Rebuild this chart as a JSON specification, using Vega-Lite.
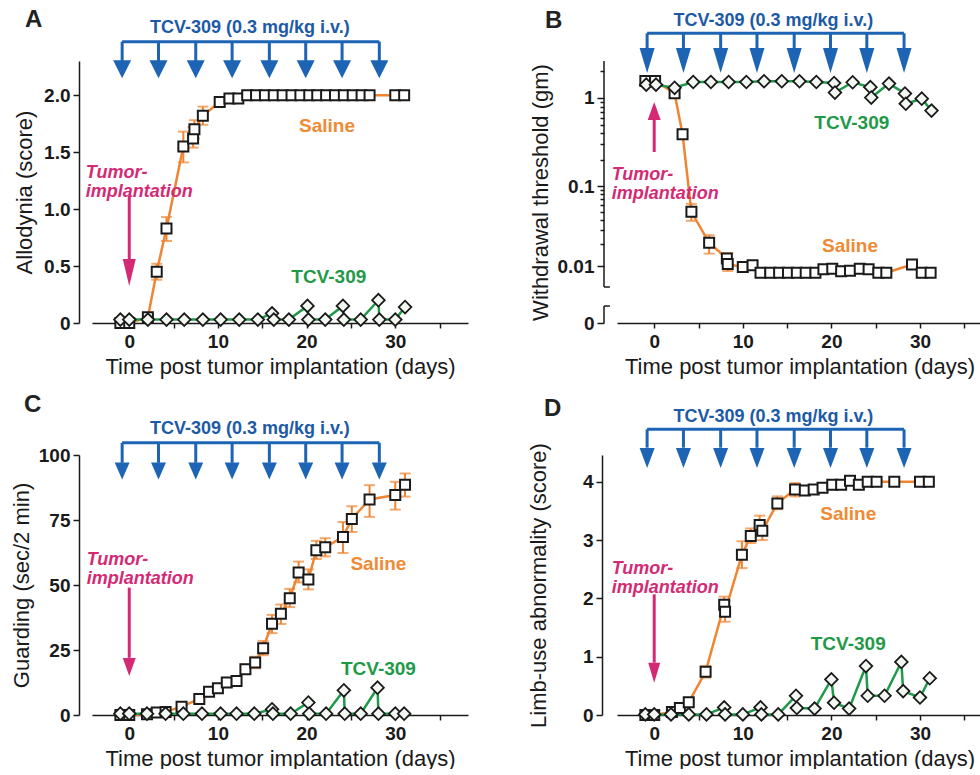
{
  "$schema": "https://vega.github.io/schema/vega-lite/v6.json",
  "padding": {"left": 10, "top": 7, "right": 0, "bottom": 0},
  "config": {
    "view": {"stroke": null},
    "font": "Liberation Sans",
    "axis": {"domainColor": "#1a1a1a", "tickColor": "#1a1a1a", "labelColor": "#1a1a1a", "titleColor": "#1a1a1a", "domainWidth": 1.5, "tickWidth": 1.5, "grid": false, "labelFontSize": 19, "labelFontWeight": "bold", "titleFontSize": 22, "titleFontWeight": "normal", "labelFont": "Liberation Sans", "titleFont": "Liberation Sans", "labelOverlap": false}
  },
  "datasets": {
    "doses": [{"day": -0.8}, {"day": 3.3}, {"day": 7.5}, {"day": 11.6}, {"day": 15.8}, {"day": 19.9}, {"day": 24.0}, {"day": 28.2}],
    "allodynia": [
      {"group": "Saline", "day": -1, "value": 0},
      {"group": "Saline", "day": 0, "value": 0},
      {"group": "Saline", "day": 2.1, "value": 0.05},
      {"group": "Saline", "day": 3.1, "value": 0.45, "lo": 0.38, "hi": 0.52},
      {"group": "Saline", "day": 4.2, "value": 0.83, "lo": 0.72, "hi": 0.93},
      {"group": "Saline", "day": 6.1, "value": 1.55, "lo": 1.41, "hi": 1.68},
      {"group": "Saline", "day": 7.2, "value": 1.62, "lo": 1.54, "hi": 1.72},
      {"group": "Saline", "day": 7.35, "value": 1.70, "lo": 1.62, "hi": 1.78},
      {"group": "Saline", "day": 8.3, "value": 1.82, "lo": 1.74, "hi": 1.90},
      {"group": "Saline", "day": 10.2, "value": 1.94, "lo": 1.90, "hi": 1.98},
      {"group": "Saline", "day": 11.3, "value": 1.97},
      {"group": "Saline", "day": 12.3, "value": 1.97},
      {"group": "Saline", "day": 13.3, "value": 2.0},
      {"group": "Saline", "day": 14.3, "value": 2.0},
      {"group": "Saline", "day": 15.3, "value": 2.0},
      {"group": "Saline", "day": 16.3, "value": 2.0},
      {"group": "Saline", "day": 17.3, "value": 2.0},
      {"group": "Saline", "day": 18.3, "value": 2.0},
      {"group": "Saline", "day": 19.3, "value": 2.0},
      {"group": "Saline", "day": 20.3, "value": 2.0},
      {"group": "Saline", "day": 21.2, "value": 2.0},
      {"group": "Saline", "day": 22.2, "value": 2.0},
      {"group": "Saline", "day": 23.2, "value": 2.0},
      {"group": "Saline", "day": 24.2, "value": 2.0},
      {"group": "Saline", "day": 25.2, "value": 2.0},
      {"group": "Saline", "day": 26.2, "value": 2.0},
      {"group": "Saline", "day": 27.1, "value": 2.0},
      {"group": "Saline", "day": 30.0, "value": 2.0},
      {"group": "Saline", "day": 31.0, "value": 2.0},
      {"group": "TCV-309", "day": -1, "value": 0.03},
      {"group": "TCV-309", "day": 0, "value": 0.03},
      {"group": "TCV-309", "day": 2.1, "value": 0.03},
      {"group": "TCV-309", "day": 4.2, "value": 0.03},
      {"group": "TCV-309", "day": 6.2, "value": 0.03},
      {"group": "TCV-309", "day": 8.3, "value": 0.03},
      {"group": "TCV-309", "day": 10.3, "value": 0.03},
      {"group": "TCV-309", "day": 12.4, "value": 0.03},
      {"group": "TCV-309", "day": 14.5, "value": 0.03},
      {"group": "TCV-309", "day": 16.1, "value": 0.085},
      {"group": "TCV-309", "day": 16.3, "value": 0.03},
      {"group": "TCV-309", "day": 18.0, "value": 0.03},
      {"group": "TCV-309", "day": 20.1, "value": 0.15},
      {"group": "TCV-309", "day": 20.2, "value": 0.03},
      {"group": "TCV-309", "day": 22.1, "value": 0.03},
      {"group": "TCV-309", "day": 24.1, "value": 0.15},
      {"group": "TCV-309", "day": 24.2, "value": 0.03},
      {"group": "TCV-309", "day": 26.1, "value": 0.03},
      {"group": "TCV-309", "day": 28.1, "value": 0.20},
      {"group": "TCV-309", "day": 28.2, "value": 0.03},
      {"group": "TCV-309", "day": 30.0, "value": 0.03},
      {"group": "TCV-309", "day": 31.1, "value": 0.14}
    ],
    "withdrawal": [
      {"group": "Saline", "day": -1, "value": 1.55},
      {"group": "Saline", "day": 0.1, "value": 1.55},
      {"group": "Saline", "day": 2.3, "value": 1.13},
      {"group": "Saline", "day": 3.2, "value": 0.39},
      {"group": "Saline", "day": 4.2, "value": 0.05, "lo": 0.039, "hi": 0.062},
      {"group": "Saline", "day": 6.2, "value": 0.0208, "lo": 0.015, "hi": 0.026},
      {"group": "Saline", "day": 8.2, "value": 0.0129},
      {"group": "Saline", "day": 8.3, "value": 0.0108, "lo": 0.0085, "hi": 0.0152},
      {"group": "Saline", "day": 10.0, "value": 0.0097},
      {"group": "Saline", "day": 11.1, "value": 0.0103},
      {"group": "Saline", "day": 12.0, "value": 0.008},
      {"group": "Saline", "day": 13.1, "value": 0.008},
      {"group": "Saline", "day": 14.1, "value": 0.008},
      {"group": "Saline", "day": 15.1, "value": 0.008},
      {"group": "Saline", "day": 16.1, "value": 0.008},
      {"group": "Saline", "day": 17.1, "value": 0.008},
      {"group": "Saline", "day": 18.2, "value": 0.008},
      {"group": "Saline", "day": 19.1, "value": 0.009},
      {"group": "Saline", "day": 20.1, "value": 0.0092},
      {"group": "Saline", "day": 21.1, "value": 0.0084},
      {"group": "Saline", "day": 22.1, "value": 0.0086},
      {"group": "Saline", "day": 23.2, "value": 0.0092},
      {"group": "Saline", "day": 24.2, "value": 0.009},
      {"group": "Saline", "day": 25.3, "value": 0.008},
      {"group": "Saline", "day": 26.2, "value": 0.008},
      {"group": "Saline", "day": 29.1, "value": 0.0106},
      {"group": "Saline", "day": 30.2, "value": 0.008},
      {"group": "Saline", "day": 31.2, "value": 0.008},
      {"group": "TCV-309", "day": -0.9, "value": 1.41},
      {"group": "TCV-309", "day": 0.2, "value": 1.41},
      {"group": "TCV-309", "day": 2.3, "value": 1.30},
      {"group": "TCV-309", "day": 4.4, "value": 1.51},
      {"group": "TCV-309", "day": 6.4, "value": 1.51},
      {"group": "TCV-309", "day": 8.4, "value": 1.51},
      {"group": "TCV-309", "day": 10.4, "value": 1.51},
      {"group": "TCV-309", "day": 12.4, "value": 1.54},
      {"group": "TCV-309", "day": 14.4, "value": 1.54},
      {"group": "TCV-309", "day": 16.4, "value": 1.54},
      {"group": "TCV-309", "day": 18.3, "value": 1.51},
      {"group": "TCV-309", "day": 20.3, "value": 1.47},
      {"group": "TCV-309", "day": 20.4, "value": 1.15},
      {"group": "TCV-309", "day": 22.4, "value": 1.50},
      {"group": "TCV-309", "day": 24.4, "value": 1.32},
      {"group": "TCV-309", "day": 24.5, "value": 1.01},
      {"group": "TCV-309", "day": 26.5, "value": 1.45},
      {"group": "TCV-309", "day": 28.3, "value": 1.12},
      {"group": "TCV-309", "day": 28.4, "value": 0.86},
      {"group": "TCV-309", "day": 30.2, "value": 0.98},
      {"group": "TCV-309", "day": 31.3, "value": 0.72}
    ],
    "guarding": [
      {"group": "Saline", "day": -1, "value": 0},
      {"group": "Saline", "day": 0, "value": 0},
      {"group": "Saline", "day": 2.0, "value": 0.3},
      {"group": "Saline", "day": 3.1, "value": 1.0},
      {"group": "Saline", "day": 4.1, "value": 1.2},
      {"group": "Saline", "day": 5.9, "value": 3.2},
      {"group": "Saline", "day": 7.9, "value": 6.2},
      {"group": "Saline", "day": 9.0, "value": 8.9},
      {"group": "Saline", "day": 10.0, "value": 10.3},
      {"group": "Saline", "day": 11.0, "value": 12.5, "lo": 11, "hi": 14},
      {"group": "Saline", "day": 12.1, "value": 13.1, "lo": 11.5, "hi": 14.7},
      {"group": "Saline", "day": 13.1, "value": 17.6, "lo": 15.8, "hi": 19.4},
      {"group": "Saline", "day": 14.2, "value": 20.2, "lo": 18, "hi": 22.4},
      {"group": "Saline", "day": 15.1, "value": 25.7, "lo": 23, "hi": 28.5},
      {"group": "Saline", "day": 16.1, "value": 35.1, "lo": 31.5, "hi": 38.5},
      {"group": "Saline", "day": 17.1, "value": 38.9, "lo": 35, "hi": 42.5},
      {"group": "Saline", "day": 18.1, "value": 44.9, "lo": 41.5, "hi": 48.5},
      {"group": "Saline", "day": 19.1, "value": 54.8, "lo": 51, "hi": 59},
      {"group": "Saline", "day": 20.2, "value": 52.1, "lo": 48.3, "hi": 56},
      {"group": "Saline", "day": 21.1, "value": 63.4, "lo": 60, "hi": 67},
      {"group": "Saline", "day": 22.1, "value": 64.5, "lo": 61, "hi": 68},
      {"group": "Saline", "day": 24.1, "value": 68.5, "lo": 62.3, "hi": 74.2},
      {"group": "Saline", "day": 25.1, "value": 75.4, "lo": 70.4, "hi": 80.3},
      {"group": "Saline", "day": 27.1, "value": 82.9, "lo": 76.2, "hi": 88.4},
      {"group": "Saline", "day": 30.0, "value": 84.6, "lo": 79, "hi": 89.7},
      {"group": "Saline", "day": 31.1, "value": 88.6, "lo": 84, "hi": 92.9},
      {"group": "TCV-309", "day": -1, "value": 0.5},
      {"group": "TCV-309", "day": 0, "value": 0.5},
      {"group": "TCV-309", "day": 2.0, "value": 0.5},
      {"group": "TCV-309", "day": 4.1, "value": 0.5},
      {"group": "TCV-309", "day": 6.1, "value": 0.5},
      {"group": "TCV-309", "day": 8.2, "value": 0.5},
      {"group": "TCV-309", "day": 10.3, "value": 0.5},
      {"group": "TCV-309", "day": 12.1, "value": 0.5},
      {"group": "TCV-309", "day": 14.1, "value": 0.5},
      {"group": "TCV-309", "day": 16.1, "value": 2.2},
      {"group": "TCV-309", "day": 16.2, "value": 0.5},
      {"group": "TCV-309", "day": 18.2, "value": 0.5},
      {"group": "TCV-309", "day": 20.2, "value": 4.8},
      {"group": "TCV-309", "day": 20.3, "value": 0.5},
      {"group": "TCV-309", "day": 22.2, "value": 0.5},
      {"group": "TCV-309", "day": 24.2, "value": 9.5},
      {"group": "TCV-309", "day": 24.3, "value": 0.5},
      {"group": "TCV-309", "day": 26.1, "value": 0.5},
      {"group": "TCV-309", "day": 28.0, "value": 10.5},
      {"group": "TCV-309", "day": 28.1, "value": 0.5},
      {"group": "TCV-309", "day": 30.0, "value": 0.5},
      {"group": "TCV-309", "day": 31.0, "value": 0.5}
    ],
    "limb": [
      {"group": "Saline", "day": -1, "value": 0},
      {"group": "Saline", "day": 0, "value": 0},
      {"group": "Saline", "day": 2.0, "value": 0.05},
      {"group": "Saline", "day": 2.9, "value": 0.12},
      {"group": "Saline", "day": 3.9, "value": 0.22},
      {"group": "Saline", "day": 5.8, "value": 0.74, "lo": 0.64, "hi": 0.84},
      {"group": "Saline", "day": 7.9, "value": 1.89, "lo": 1.7, "hi": 2.03},
      {"group": "Saline", "day": 8.0, "value": 1.77, "lo": 1.6, "hi": 1.95},
      {"group": "Saline", "day": 9.9, "value": 2.75, "lo": 2.52, "hi": 2.98},
      {"group": "Saline", "day": 10.9, "value": 3.07, "lo": 2.95, "hi": 3.2},
      {"group": "Saline", "day": 11.9, "value": 3.26, "lo": 3.1, "hi": 3.42},
      {"group": "Saline", "day": 12.2, "value": 3.16, "lo": 3.0, "hi": 3.3},
      {"group": "Saline", "day": 13.9, "value": 3.63, "lo": 3.53, "hi": 3.75},
      {"group": "Saline", "day": 15.9, "value": 3.87, "lo": 3.75, "hi": 3.98},
      {"group": "Saline", "day": 17.0, "value": 3.85},
      {"group": "Saline", "day": 18.0, "value": 3.87},
      {"group": "Saline", "day": 19.0, "value": 3.9},
      {"group": "Saline", "day": 20.1, "value": 3.95},
      {"group": "Saline", "day": 21.1, "value": 3.95},
      {"group": "Saline", "day": 22.1, "value": 4.02},
      {"group": "Saline", "day": 23.1, "value": 3.95},
      {"group": "Saline", "day": 24.1, "value": 4.0},
      {"group": "Saline", "day": 25.1, "value": 4.0},
      {"group": "Saline", "day": 27.1, "value": 4.0},
      {"group": "Saline", "day": 30.0, "value": 4.0},
      {"group": "Saline", "day": 31.0, "value": 4.0},
      {"group": "TCV-309", "day": -1, "value": 0.01},
      {"group": "TCV-309", "day": 0, "value": 0.01},
      {"group": "TCV-309", "day": 1.9, "value": 0.01},
      {"group": "TCV-309", "day": 3.9, "value": 0.01},
      {"group": "TCV-309", "day": 5.9, "value": 0.01},
      {"group": "TCV-309", "day": 7.9, "value": 0.13},
      {"group": "TCV-309", "day": 8.0, "value": 0.01},
      {"group": "TCV-309", "day": 10.0, "value": 0.01},
      {"group": "TCV-309", "day": 12.0, "value": 0.13},
      {"group": "TCV-309", "day": 12.1, "value": 0.01},
      {"group": "TCV-309", "day": 14.0, "value": 0.01},
      {"group": "TCV-309", "day": 16.0, "value": 0.33},
      {"group": "TCV-309", "day": 16.1, "value": 0.12},
      {"group": "TCV-309", "day": 18.1, "value": 0.11},
      {"group": "TCV-309", "day": 20.0, "value": 0.61},
      {"group": "TCV-309", "day": 20.3, "value": 0.21},
      {"group": "TCV-309", "day": 22.0, "value": 0.11},
      {"group": "TCV-309", "day": 23.9, "value": 0.84},
      {"group": "TCV-309", "day": 24.1, "value": 0.33},
      {"group": "TCV-309", "day": 26.0, "value": 0.33},
      {"group": "TCV-309", "day": 27.9, "value": 0.91},
      {"group": "TCV-309", "day": 28.1, "value": 0.41},
      {"group": "TCV-309", "day": 30.0, "value": 0.30},
      {"group": "TCV-309", "day": 31.1, "value": 0.63}
    ]
  },
  "columns": 2,
  "spacing": {"row": 132, "column": 149},
  "bounds": "flush",
  "concat": [
    {
      "width": 376, "height": 262,
      "title": {"text": "A", "anchor": "start", "frame": "group", "dx": -67, "dy": 13, "offset": 0, "fontSize": 24, "fontWeight": "bold", "color": "#222222"},
      "layer": [
        {"data": {"name": "allodynia"}, "transform": [{"filter": "datum.group === 'Saline'"}],
         "mark": {"type": "line", "color": "#ef8533", "strokeWidth": 2.5},
         "encoding": {
           "x": {"field": "day", "type": "quantitative", "title": "Time post tumor implantation (days)", "scale": {"domain": [-4.2, 38.2], "nice": false, "zero": false},
                 "axis": {"values": [0, 5, 10, 15, 20, 25, 30, 35], "tickCount": 40, "labelExpr": "datum.value % 10 === 0 ? datum.label : ''", "tickSize": 5, "labelPadding": 4, "titlePadding": 5}},
           "y": {"field": "value", "type": "quantitative", "title": "Allodynia (score)", "scale": {"domain": [0, 2.3], "nice": false, "zero": true},
                 "axis": {"values": [0, 0.5, 1, 1.5, 2], "tickCount": 40, "labelExpr": "datum.value === 0 ? '0' : format(datum.value, '.1f')", "offset": 13, "tickSize": 6, "labelPadding": 3, "titlePadding": 7}}
         }},
        {"data": {"name": "allodynia"}, "transform": [{"filter": "datum.group === 'Saline' && isValid(datum.lo)"}],
         "mark": {"type": "errorbar", "ticks": true, "color": "#ef8533", "size": 11, "thickness": 2},
         "encoding": {"x": {"field": "day", "type": "quantitative", "title": "Time post tumor implantation (days)"}, "y": {"field": "lo", "type": "quantitative", "title": "Allodynia (score)"}, "y2": {"field": "hi"}}},
        {"data": {"name": "allodynia"}, "transform": [{"filter": "datum.group === 'TCV-309'"}],
         "mark": {"type": "line", "color": "#1f9a48", "strokeWidth": 2.5},
         "encoding": {"x": {"field": "day", "type": "quantitative"}, "y": {"field": "value", "type": "quantitative"}}},
        {"data": {"name": "allodynia"}, "transform": [{"filter": "datum.group === 'Saline'"}],
         "mark": {"type": "point", "shape": "square", "size": 100, "filled": true, "fill": "#ffffff", "stroke": "#1a1a1a", "strokeWidth": 2, "opacity": 1},
         "encoding": {"x": {"field": "day", "type": "quantitative"}, "y": {"field": "value", "type": "quantitative"}}},
        {"data": {"name": "allodynia"}, "transform": [{"filter": "datum.group === 'TCV-309'"}],
         "mark": {"type": "point", "shape": "diamond", "size": 160, "filled": true, "fill": "#f3f7f1", "stroke": "#1a1a1a", "strokeWidth": 1.8, "opacity": 1},
         "encoding": {"x": {"field": "day", "type": "quantitative"}, "y": {"field": "value", "type": "quantitative"}}},
        {"data": {"name": "doses"}, "mark": {"type": "rule", "color": "#1d64b5", "strokeWidth": 3},
         "encoding": {"x": {"aggregate": "min", "field": "day", "type": "quantitative"}, "x2": {"aggregate": "max", "field": "day"}, "y": {"datum": 2.47, "type": "quantitative"}}},
        {"data": {"name": "doses"}, "mark": {"type": "rule", "color": "#1d64b5", "strokeWidth": 3},
         "encoding": {"x": {"field": "day", "type": "quantitative"}, "y": {"datum": 2.47, "type": "quantitative"}, "y2": {"datum": 2.30}}},
        {"data": {"name": "doses"}, "mark": {"type": "point", "shape": "M-1,-1L1,-1L0,1Z", "size": 324, "filled": true, "color": "#1d64b5", "opacity": 1, "strokeWidth": 0},
         "encoding": {"x": {"field": "day", "type": "quantitative"}, "y": {"datum": 2.227, "type": "quantitative"}}},
        {"data": {"values": [{}]}, "mark": {"type": "text", "text": "TCV-309 (0.3 mg/kg i.v.)", "color": "#1d5aa6", "fontSize": 18, "fontWeight": "bold", "align": "center", "baseline": "middle"},
         "encoding": {"x": {"datum": 13.6, "type": "quantitative"}, "y": {"datum": 2.593, "type": "quantitative"}}},
        {"data": {"values": [{}]}, "mark": {"type": "rule", "color": "#d42a74", "strokeWidth": 3},
         "encoding": {"x": {"datum": 0, "type": "quantitative"}, "y": {"datum": 1.115, "type": "quantitative"}, "y2": {"datum": 0.562}}},
        {"data": {"values": [{}]}, "mark": {"type": "point", "shape": "M-0.48,-1L0.48,-1L0,1Z", "size": 729, "filled": true, "color": "#d42a74", "opacity": 1, "strokeWidth": 0},
         "encoding": {"x": {"datum": 0, "type": "quantitative"}, "y": {"datum": 0.443, "type": "quantitative"}}},
        {"data": {"values": [{}]}, "mark": {"type": "text", "text": ["Tumor-", "implantation"], "lineHeight": 19, "align": "left", "baseline": "middle", "fontSize": 18, "fontStyle": "italic", "fontWeight": "bold", "color": "#d42a74"},
         "encoding": {"x": {"datum": -4.9, "type": "quantitative"}, "y": {"datum": 1.313, "type": "quantitative"}}},
        {"data": {"values": [{}]}, "mark": {"type": "text", "text": "Saline", "fontSize": 19, "fontWeight": "bold", "color": "#ef8a35", "align": "center", "baseline": "middle"},
         "encoding": {"x": {"datum": 22.3, "type": "quantitative"}, "y": {"datum": 1.73, "type": "quantitative"}}},
        {"data": {"values": [{}]}, "mark": {"type": "text", "text": "TCV-309", "fontSize": 19, "fontWeight": "bold", "color": "#1f9a48", "align": "center", "baseline": "middle"},
         "encoding": {"x": {"datum": 22.5, "type": "quantitative"}, "y": {"datum": 0.40, "type": "quantitative"}}}
      ]
    },
    {
      "width": 365, "height": 262,
      "title": {"text": "B", "anchor": "start", "frame": "group", "dx": -72, "dy": 21, "offset": 0, "fontSize": 24, "fontWeight": "bold", "color": "#222222"},
      "layer": [
        {"data": {"name": "withdrawal"}, "transform": [{"filter": "datum.group === 'Saline'"}],
         "mark": {"type": "line", "color": "#ef8533", "strokeWidth": 2.5},
         "encoding": {
           "x": {"field": "day", "type": "quantitative", "title": "Time post tumor implantation (days)", "scale": {"domain": [-4.2, 37], "nice": false, "zero": false},
                 "axis": {"values": [0, 5, 10, 15, 20, 25, 30, 35], "tickCount": 40, "labelExpr": "datum.value % 10 === 0 ? datum.label : ''", "tickSize": 5, "labelPadding": 4, "titlePadding": 5}},
           "y": {"field": "value", "type": "quantitative", "title": "Withdrawal threshold (gm)", "scale": {"type": "symlog", "constant": 0.003, "domain": [0, 2.6], "nice": false, "zero": true},
                 "axis": {"values": [0, 0.01, 0.02, 0.03, 0.04, 0.05, 0.06, 0.07, 0.08, 0.09, 0.1, 0.2, 0.3, 0.4, 0.5, 0.6, 0.7, 0.8, 0.9, 1, 2],
                          "tickCount": 60,
                          "labelExpr": "datum.value === 0 ? '0' : abs(datum.value - 0.01) < 1e-9 ? '0.01' : abs(datum.value - 0.1) < 1e-9 ? '0.1' : abs(datum.value - 1) < 1e-9 ? '1' : ''",
                          "tickSize": {"condition": {"test": "datum.value === 0 || abs(datum.value - 0.01) < 1e-9 || abs(datum.value - 0.1) < 1e-9 || abs(datum.value - 1) < 1e-9", "value": 7}, "value": 4},
                          "labelOverlap": false, "domain": false, "offset": 13, "labelPadding": 3, "titlePadding": 5}}
         }},
        {"data": {"name": "withdrawal"}, "transform": [{"filter": "datum.group === 'Saline' && isValid(datum.lo)"}],
         "mark": {"type": "errorbar", "ticks": true, "color": "#ef8533", "size": 11, "thickness": 2},
         "encoding": {"x": {"field": "day", "type": "quantitative", "title": "Time post tumor implantation (days)"}, "y": {"field": "lo", "type": "quantitative", "title": "Withdrawal threshold (gm)"}, "y2": {"field": "hi"}}},
        {"data": {"name": "withdrawal"}, "transform": [{"filter": "datum.group === 'TCV-309'"}],
         "mark": {"type": "line", "color": "#1f9a48", "strokeWidth": 2.5},
         "encoding": {"x": {"field": "day", "type": "quantitative"}, "y": {"field": "value", "type": "quantitative"}}},
        {"data": {"name": "withdrawal"}, "transform": [{"filter": "datum.group === 'Saline'"}],
         "mark": {"type": "point", "shape": "square", "size": 100, "filled": true, "fill": "#ffffff", "stroke": "#1a1a1a", "strokeWidth": 2, "opacity": 1},
         "encoding": {"x": {"field": "day", "type": "quantitative"}, "y": {"field": "value", "type": "quantitative"}}},
        {"data": {"name": "withdrawal"}, "transform": [{"filter": "datum.group === 'TCV-309'"}],
         "mark": {"type": "point", "shape": "diamond", "size": 160, "filled": true, "fill": "#f3f7f1", "stroke": "#1a1a1a", "strokeWidth": 1.8, "opacity": 1},
         "encoding": {"x": {"field": "day", "type": "quantitative"}, "y": {"field": "value", "type": "quantitative"}}},
        {"data": {"values": [{}]}, "mark": {"type": "rule", "color": "#1a1a1a", "strokeWidth": 1.5},
         "encoding": {"x": {"datum": -5.667, "type": "quantitative"}, "y": {"datum": 0.0046, "type": "quantitative"}, "y2": {"datum": 2.6}}},
        {"data": {"values": [{}]}, "mark": {"type": "rule", "color": "#1a1a1a", "strokeWidth": 1.5},
         "encoding": {"x": {"datum": -5.667, "type": "quantitative"}, "y": {"datum": 0, "type": "quantitative"}, "y2": {"datum": 0.00165}}},
        {"data": {"values": [{}]}, "mark": {"type": "rule", "color": "#1a1a1a", "strokeWidth": 1.5},
         "encoding": {"x": {"datum": -5.667, "type": "quantitative"}, "x2": {"datum": -5.0}, "y": {"datum": 0.0046, "type": "quantitative"}}},
        {"data": {"values": [{}]}, "mark": {"type": "rule", "color": "#1a1a1a", "strokeWidth": 1.5},
         "encoding": {"x": {"datum": -5.667, "type": "quantitative"}, "x2": {"datum": -5.0}, "y": {"datum": 0.00165, "type": "quantitative"}}},
        {"data": {"name": "doses"}, "mark": {"type": "rule", "color": "#1d64b5", "strokeWidth": 3},
         "encoding": {"x": {"aggregate": "min", "field": "day", "type": "quantitative"}, "x2": {"aggregate": "max", "field": "day"}, "y": {"datum": 5.32, "type": "quantitative"}}},
        {"data": {"name": "doses"}, "mark": {"type": "rule", "color": "#1d64b5", "strokeWidth": 3},
         "encoding": {"x": {"field": "day", "type": "quantitative"}, "y": {"datum": 5.32, "type": "quantitative"}, "y2": {"datum": 3.64}}},
        {"data": {"name": "doses"}, "mark": {"type": "point", "shape": "M-0.6,-1L0.6,-1L0,1Z", "size": 625, "filled": true, "color": "#1d64b5", "opacity": 1, "strokeWidth": 0},
         "encoding": {"x": {"field": "day", "type": "quantitative"}, "y": {"datum": 2.64, "type": "quantitative"}}},
        {"data": {"values": [{}]}, "mark": {"type": "text", "text": "TCV-309 (0.3 mg/kg i.v.)", "color": "#1d5aa6", "fontSize": 18, "fontWeight": "bold", "align": "center", "baseline": "middle"},
         "encoding": {"x": {"datum": 13.45, "type": "quantitative"}, "y": {"datum": 7.32, "type": "quantitative"}}},
        {"data": {"values": [{}]}, "mark": {"type": "rule", "color": "#d42a74", "strokeWidth": 3},
         "encoding": {"x": {"datum": 0, "type": "quantitative"}, "y": {"datum": 0.245, "type": "quantitative"}, "y2": {"datum": 0.58}}},
        {"data": {"values": [{}]}, "mark": {"type": "point", "shape": "M-0.72,1L0.72,1L0,-1Z", "size": 324, "filled": true, "color": "#d42a74", "opacity": 1, "strokeWidth": 0},
         "encoding": {"x": {"datum": 0, "type": "quantitative"}, "y": {"datum": 0.713, "type": "quantitative"}}},
        {"data": {"values": [{}]}, "mark": {"type": "text", "text": ["Tumor-", "implantation"], "lineHeight": 19, "align": "left", "baseline": "middle", "fontSize": 18, "fontStyle": "italic", "fontWeight": "bold", "color": "#d42a74"},
         "encoding": {"x": {"datum": -4.8, "type": "quantitative"}, "y": {"datum": 0.134, "type": "quantitative"}}},
        {"data": {"values": [{}]}, "mark": {"type": "text", "text": "Saline", "fontSize": 19, "fontWeight": "bold", "color": "#ef8a35", "align": "center", "baseline": "middle"},
         "encoding": {"x": {"datum": 22.1, "type": "quantitative"}, "y": {"datum": 0.0189, "type": "quantitative"}}},
        {"data": {"values": [{}]}, "mark": {"type": "text", "text": "TCV-309", "fontSize": 19, "fontWeight": "bold", "color": "#1f9a48", "align": "center", "baseline": "middle"},
         "encoding": {"x": {"datum": 22.3, "type": "quantitative"}, "y": {"datum": 0.526, "type": "quantitative"}}}
      ]
    },
    {
      "width": 376, "height": 260,
      "title": {"text": "C", "anchor": "start", "frame": "group", "dx": -68, "dy": -3, "offset": 0, "fontSize": 24, "fontWeight": "bold", "color": "#222222"},
      "layer": [
        {"data": {"name": "guarding"}, "transform": [{"filter": "datum.group === 'Saline'"}],
         "mark": {"type": "line", "color": "#ef8533", "strokeWidth": 2.5},
         "encoding": {
           "x": {"field": "day", "type": "quantitative", "title": "Time post tumor implantation (days)", "scale": {"domain": [-4.2, 38.2], "nice": false, "zero": false},
                 "axis": {"values": [0, 5, 10, 15, 20, 25, 30, 35], "tickCount": 40, "labelExpr": "datum.value % 10 === 0 ? datum.label : ''", "tickSize": 5, "labelPadding": 4, "titlePadding": 5}},
           "y": {"field": "value", "type": "quantitative", "title": "Guarding (sec/2 min)", "scale": {"domain": [0, 100], "nice": false, "zero": true},
                 "axis": {"values": [0, 25, 50, 75, 100], "tickCount": 40, "format": "d", "offset": 13, "tickSize": 6, "labelPadding": 3, "titlePadding": 5}}
         }},
        {"data": {"name": "guarding"}, "transform": [{"filter": "datum.group === 'Saline' && isValid(datum.lo)"}],
         "mark": {"type": "errorbar", "ticks": true, "color": "#ef8533", "size": 11, "thickness": 2},
         "encoding": {"x": {"field": "day", "type": "quantitative", "title": "Time post tumor implantation (days)"}, "y": {"field": "lo", "type": "quantitative", "title": "Guarding (sec/2 min)"}, "y2": {"field": "hi"}}},
        {"data": {"name": "guarding"}, "transform": [{"filter": "datum.group === 'TCV-309'"}],
         "mark": {"type": "line", "color": "#1f9a48", "strokeWidth": 2.5},
         "encoding": {"x": {"field": "day", "type": "quantitative"}, "y": {"field": "value", "type": "quantitative"}}},
        {"data": {"name": "guarding"}, "transform": [{"filter": "datum.group === 'Saline'"}],
         "mark": {"type": "point", "shape": "square", "size": 100, "filled": true, "fill": "#ffffff", "stroke": "#1a1a1a", "strokeWidth": 2, "opacity": 1},
         "encoding": {"x": {"field": "day", "type": "quantitative"}, "y": {"field": "value", "type": "quantitative"}}},
        {"data": {"name": "guarding"}, "transform": [{"filter": "datum.group === 'TCV-309'"}],
         "mark": {"type": "point", "shape": "diamond", "size": 160, "filled": true, "fill": "#f3f7f1", "stroke": "#1a1a1a", "strokeWidth": 1.8, "opacity": 1},
         "encoding": {"x": {"field": "day", "type": "quantitative"}, "y": {"field": "value", "type": "quantitative"}}},
        {"data": {"name": "doses"}, "mark": {"type": "rule", "color": "#1d64b5", "strokeWidth": 3},
         "encoding": {"x": {"aggregate": "min", "field": "day", "type": "quantitative"}, "x2": {"aggregate": "max", "field": "day"}, "y": {"datum": 104.7, "type": "quantitative"}}},
        {"data": {"name": "doses"}, "mark": {"type": "rule", "color": "#1d64b5", "strokeWidth": 3},
         "encoding": {"x": {"field": "day", "type": "quantitative"}, "y": {"datum": 104.7, "type": "quantitative"}, "y2": {"datum": 97.0}}},
        {"data": {"name": "doses"}, "mark": {"type": "point", "shape": "M-0.88,-1L0.88,-1L0,1Z", "size": 289, "filled": true, "color": "#1d64b5", "opacity": 1, "strokeWidth": 0},
         "encoding": {"x": {"field": "day", "type": "quantitative"}, "y": {"datum": 93.8, "type": "quantitative"}}},
        {"data": {"values": [{}]}, "mark": {"type": "text", "text": "TCV-309 (0.3 mg/kg i.v.)", "color": "#1d5aa6", "fontSize": 18, "fontWeight": "bold", "align": "center", "baseline": "middle"},
         "encoding": {"x": {"datum": 13.6, "type": "quantitative"}, "y": {"datum": 109.9, "type": "quantitative"}}},
        {"data": {"values": [{}]}, "mark": {"type": "rule", "color": "#d42a74", "strokeWidth": 3},
         "encoding": {"x": {"datum": 0, "type": "quantitative"}, "y": {"datum": 49.0, "type": "quantitative"}, "y2": {"datum": 22.0}}},
        {"data": {"values": [{}]}, "mark": {"type": "point", "shape": "M-0.72,-1L0.72,-1L0,1Z", "size": 324, "filled": true, "color": "#d42a74", "opacity": 1, "strokeWidth": 0},
         "encoding": {"x": {"datum": 0, "type": "quantitative"}, "y": {"datum": 18.5, "type": "quantitative"}}},
        {"data": {"values": [{}]}, "mark": {"type": "text", "text": ["Tumor-", "implantation"], "lineHeight": 19, "align": "left", "baseline": "middle", "fontSize": 18, "fontStyle": "italic", "fontWeight": "bold", "color": "#d42a74"},
         "encoding": {"x": {"datum": -4.8, "type": "quantitative"}, "y": {"datum": 59.7, "type": "quantitative"}}},
        {"data": {"values": [{}]}, "mark": {"type": "text", "text": "Saline", "fontSize": 19, "fontWeight": "bold", "color": "#ef8a35", "align": "center", "baseline": "middle"},
         "encoding": {"x": {"datum": 28.1, "type": "quantitative"}, "y": {"datum": 58.0, "type": "quantitative"}}},
        {"data": {"values": [{}]}, "mark": {"type": "text", "text": "TCV-309", "fontSize": 19, "fontWeight": "bold", "color": "#1f9a48", "align": "center", "baseline": "middle"},
         "encoding": {"x": {"datum": 28.1, "type": "quantitative"}, "y": {"datum": 17.6, "type": "quantitative"}}}
      ]
    },
    {
      "width": 365, "height": 260,
      "title": {"text": "D", "anchor": "start", "frame": "group", "dx": -73, "dy": 13, "offset": 0, "fontSize": 24, "fontWeight": "bold", "color": "#222222"},
      "layer": [
        {"data": {"name": "limb"}, "transform": [{"filter": "datum.group === 'Saline'"}],
         "mark": {"type": "line", "color": "#ef8533", "strokeWidth": 2.5},
         "encoding": {
           "x": {"field": "day", "type": "quantitative", "title": "Time post tumor implantation (days)", "scale": {"domain": [-4.2, 37], "nice": false, "zero": false},
                 "axis": {"values": [0, 5, 10, 15, 20, 25, 30, 35], "tickCount": 40, "labelExpr": "datum.value % 10 === 0 ? datum.label : ''", "tickSize": 5, "labelPadding": 4, "titlePadding": 5}},
           "y": {"field": "value", "type": "quantitative", "title": "Limb-use abnormality (score)", "scale": {"domain": [0, 4.46], "nice": false, "zero": true},
                 "axis": {"values": [0, 1, 2, 3, 4], "tickCount": 40, "format": "d", "offset": 15, "tickSize": 6, "labelPadding": 3, "titlePadding": 32}}
         }},
        {"data": {"name": "limb"}, "transform": [{"filter": "datum.group === 'Saline' && isValid(datum.lo)"}],
         "mark": {"type": "errorbar", "ticks": true, "color": "#ef8533", "size": 11, "thickness": 2},
         "encoding": {"x": {"field": "day", "type": "quantitative", "title": "Time post tumor implantation (days)"}, "y": {"field": "lo", "type": "quantitative", "title": "Limb-use abnormality (score)"}, "y2": {"field": "hi"}}},
        {"data": {"name": "limb"}, "transform": [{"filter": "datum.group === 'TCV-309'"}],
         "mark": {"type": "line", "color": "#1f9a48", "strokeWidth": 2.5},
         "encoding": {"x": {"field": "day", "type": "quantitative"}, "y": {"field": "value", "type": "quantitative"}}},
        {"data": {"name": "limb"}, "transform": [{"filter": "datum.group === 'Saline'"}],
         "mark": {"type": "point", "shape": "square", "size": 100, "filled": true, "fill": "#ffffff", "stroke": "#1a1a1a", "strokeWidth": 2, "opacity": 1},
         "encoding": {"x": {"field": "day", "type": "quantitative"}, "y": {"field": "value", "type": "quantitative"}}},
        {"data": {"name": "limb"}, "transform": [{"filter": "datum.group === 'TCV-309'"}],
         "mark": {"type": "point", "shape": "diamond", "size": 160, "filled": true, "fill": "#f3f7f1", "stroke": "#1a1a1a", "strokeWidth": 1.8, "opacity": 1},
         "encoding": {"x": {"field": "day", "type": "quantitative"}, "y": {"field": "value", "type": "quantitative"}}},
        {"data": {"name": "doses"}, "mark": {"type": "rule", "color": "#1d64b5", "strokeWidth": 3},
         "encoding": {"x": {"aggregate": "min", "field": "day", "type": "quantitative"}, "x2": {"aggregate": "max", "field": "day"}, "y": {"datum": 4.90, "type": "quantitative"}}},
        {"data": {"name": "doses"}, "mark": {"type": "rule", "color": "#1d64b5", "strokeWidth": 3},
         "encoding": {"x": {"field": "day", "type": "quantitative"}, "y": {"datum": 4.90, "type": "quantitative"}, "y2": {"datum": 4.585}}},
        {"data": {"name": "doses"}, "mark": {"type": "point", "shape": "M-0.75,-1L0.75,-1L0,1Z", "size": 400, "filled": true, "color": "#1d64b5", "opacity": 1, "strokeWidth": 0},
         "encoding": {"x": {"field": "day", "type": "quantitative"}, "y": {"datum": 4.41, "type": "quantitative"}}},
        {"data": {"values": [{}]}, "mark": {"type": "text", "text": "TCV-309 (0.3 mg/kg i.v.)", "color": "#1d5aa6", "fontSize": 18, "fontWeight": "bold", "align": "center", "baseline": "middle"},
         "encoding": {"x": {"datum": 13.45, "type": "quantitative"}, "y": {"datum": 5.12, "type": "quantitative"}}},
        {"data": {"values": [{}]}, "mark": {"type": "rule", "color": "#d42a74", "strokeWidth": 3},
         "encoding": {"x": {"datum": 0, "type": "quantitative"}, "y": {"datum": 2.07, "type": "quantitative"}, "y2": {"datum": 0.897}}},
        {"data": {"values": [{}]}, "mark": {"type": "point", "shape": "M-0.6,-1L0.6,-1L0,1Z", "size": 400, "filled": true, "color": "#d42a74", "opacity": 1, "strokeWidth": 0},
         "encoding": {"x": {"datum": 0, "type": "quantitative"}, "y": {"datum": 0.726, "type": "quantitative"}}},
        {"data": {"values": [{}]}, "mark": {"type": "text", "text": ["Tumor-", "implantation"], "lineHeight": 19, "align": "left", "baseline": "middle", "fontSize": 18, "fontStyle": "italic", "fontWeight": "bold", "color": "#d42a74"},
         "encoding": {"x": {"datum": -4.8, "type": "quantitative"}, "y": {"datum": 2.50, "type": "quantitative"}}},
        {"data": {"values": [{}]}, "mark": {"type": "text", "text": "Saline", "fontSize": 19, "fontWeight": "bold", "color": "#ef8a35", "align": "center", "baseline": "middle"},
         "encoding": {"x": {"datum": 21.9, "type": "quantitative"}, "y": {"datum": 3.44, "type": "quantitative"}}},
        {"data": {"values": [{}]}, "mark": {"type": "text", "text": "TCV-309", "fontSize": 19, "fontWeight": "bold", "color": "#1f9a48", "align": "center", "baseline": "middle"},
         "encoding": {"x": {"datum": 21.9, "type": "quantitative"}, "y": {"datum": 1.21, "type": "quantitative"}}}
      ]
    }
  ]
}
